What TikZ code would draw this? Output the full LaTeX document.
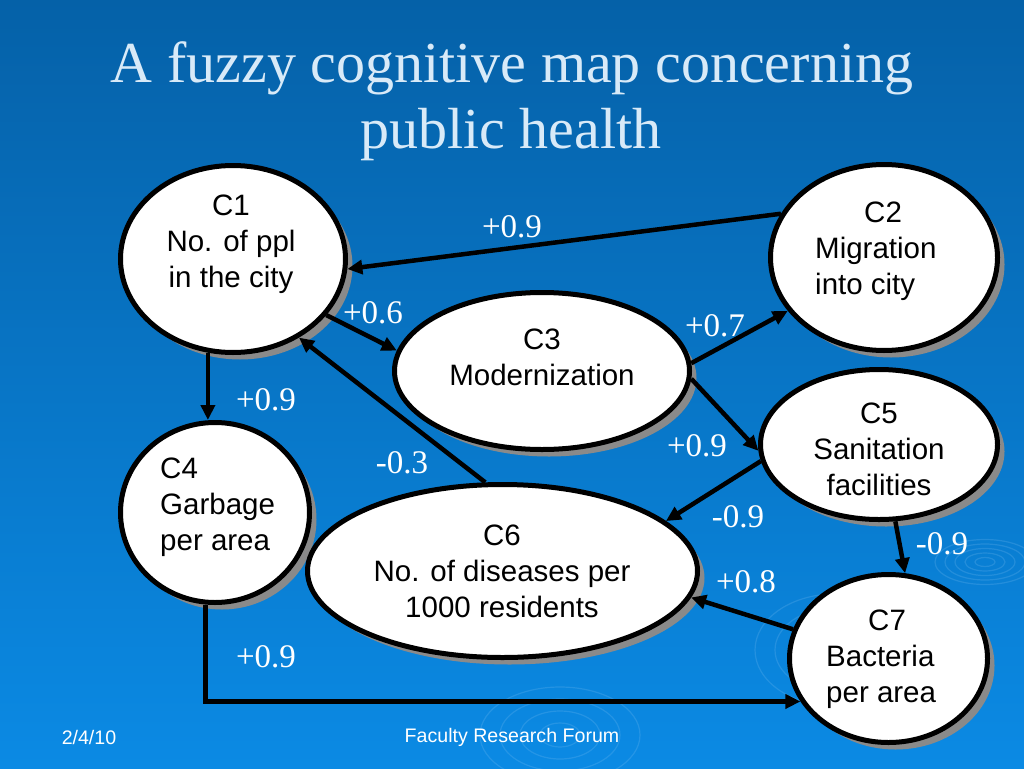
\documentclass[tikz,border=0pt]{standalone}
\usepackage{fontspec}
\setmainfont{Liberation Serif}
\setsansfont{Liberation Sans}
\usetikzlibrary{shapes.geometric,arrows.meta,shadows}

\definecolor{bgtop}{HTML}{0561A8}
\definecolor{bgbot}{HTML}{0B8AE4}
\definecolor{titlecol}{HTML}{D8EAF8}
\definecolor{shadowgray}{HTML}{8A8A8A}
\definecolor{ripple}{HTML}{8FC8F5}

\begin{document}
\begin{tikzpicture}[x=1pt,y=-1pt,
  concept/.style={ellipse, draw=black, line width=5pt, fill=white, inner sep=0pt,
    drop shadow={shadow xshift=7pt, shadow yshift=-7pt, fill=shadowgray, opacity=1}},
  ctext/.style={font=\fontsize{29.5}{36}\sffamily\selectfont, text=black, inner sep=0pt},
  arr/.style={line width=4.5pt, -{Triangle[length=15pt,width=14pt]}},
  wlabel/.style={font=\fontsize{33}{36}\rmfamily\selectfont, text=white, inner sep=0pt},
  titletext/.style={font=\fontsize{58}{66}\rmfamily\selectfont, text=titlecol, inner sep=0pt, anchor=base},
  foot/.style={font=\fontsize{19.6}{22}\sffamily\selectfont, text=white, inner sep=0pt},
  rip/.style={draw=ripple, line width=1.2pt, opacity=0.2},
]
% background
\shade[top color=bgtop, bottom color=bgbot] (0,0) rectangle (1024,768);
\useasboundingbox (0,0) rectangle (1024,768);

% ripples
\foreach \r in {10,20,30,40,50} {
  \draw[rip] (985,562) ellipse ({\r pt} and {0.45*\r pt});
}
\foreach \r in {20,40,60,80} {
  \draw[rip] (560,735) ellipse ({\r pt} and {0.6*\r pt});
  \draw[rip] (835,650) ellipse ({\r pt} and {0.7*\r pt});
}

% title
\node[titletext] (t1) at (512,82) {A fuzzy cognitive map concerning};
\node[titletext] (t2) at (511,148) {public health};

% concepts
\node[concept, minimum width=225pt, minimum height=187pt] (c1) at (233,259) {};
\node[concept, minimum width=227pt, minimum height=186pt] (c2) at (884,257.5) {};
\node[concept, minimum width=295pt, minimum height=157pt] (c3) at (542,371) {};
\node[concept, minimum width=237pt, minimum height=150pt] (c5) at (879,444.5) {};
\node[concept, minimum width=189pt, minimum height=180pt] (c4) at (215,512.5) {};
\node[concept, minimum width=390pt, minimum height=173pt] (c6) at (502.5,571) {};
\node[concept, minimum width=198pt, minimum height=168pt] (c7) at (888.5,658.5) {};

% concept texts
\node[ctext, align=center] (l1) at (231,244) {C1\\No. of ppl\\in the city};
\node[ctext, align=left, anchor=west] (l2) at (815,251) {\hspace*{49pt}C2\\Migration\\into city};
\node[ctext, align=center] (l3) at (542,357) {C3\\Modernization};
\node[ctext, align=left, anchor=west] (l4) at (160,507) {C4\\Garbage\\per area};
\node[ctext, align=center] (l5) at (879,449) {C5\\Sanitation\\facilities};
\node[ctext, align=center] (l6) at (502,571) {C6\\No. of diseases per\\1000 residents};
\node[ctext, align=left, anchor=west] (l7) at (826,659) {\hspace*{42pt}C7\\Bacteria\\per area};

% connectors
\draw[arr] (c2.157) -- (c1.-5);
\draw[arr] (c1.-31) -- (c3.172);
\draw[arr] (c6.101) -- (c1.-50);
\draw[arr] (c1.-105) -- (c1.-105 |- c4.north);
\draw[arr] (c3.3) -- (c2.-151);
\draw[arr] (c3.-3) -- (c5.-177);
\draw[arr] (c5.-172) -- (c6.17);
\draw[arr] (c5.-78) -- (c7.79);
\draw[arr] (c7.163) -- (c6.-8);
\draw[arr, line join=miter] (c4.-96) |- (c7.-154);

% weights
\node[wlabel] (w1) at (512,227) {+0.9};
\node[wlabel] (w2) at (373,313) {+0.6};
\node[wlabel] (w3) at (402,463) {-0.3};
\node[wlabel] (w4) at (266,400) {+0.9};
\node[wlabel] (w5) at (715,326) {+0.7};
\node[wlabel] (w6) at (697,446) {+0.9};
\node[wlabel] (w7) at (738,517) {-0.9};
\node[wlabel] (w8) at (942,544) {-0.9};
\node[wlabel] (w9) at (746,582) {+0.8};
\node[wlabel] (w10) at (266,657) {+0.9};

% footer
\node[foot] (f1) at (89,737) {2/4/10};
\node[foot] (f2) at (512,737) {Faculty Research Forum};
\end{tikzpicture}
\end{document}
